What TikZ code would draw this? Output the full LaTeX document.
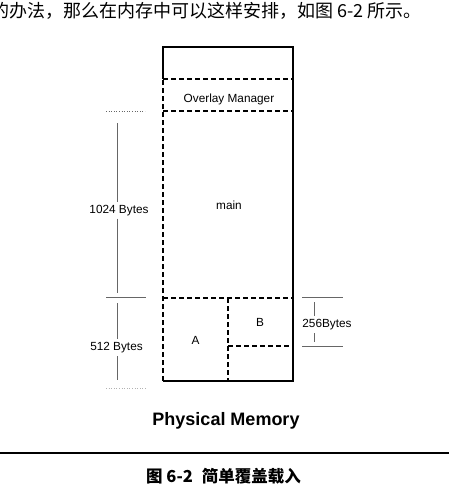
\documentclass[tikz,border=0pt]{standalone}
\usepackage{fontspec}
\setmainfont{Liberation Sans}
\newfontfamily\cjk{Noto Sans CJK SC}
\begin{document}
\begin{tikzpicture}[x=1pt,y=-1pt,
  wall/.style={line width=1.7pt},
  dashline/.style={line width=1.6pt, dash pattern=on 5pt off 3pt},
  dimline/.style={black!60, line width=0.6pt},
  lbl/.style={font=\fontsize{11.8}{13}\selectfont, inner sep=0pt},
  dimlbl/.style={font=\fontsize{11.8}{13}\selectfont, inner xsep=0pt, inner ysep=3pt},
]
\useasboundingbox (0,0) rectangle (449,501);

% intro sentence
\node[font=\cjk\fontsize{18}{20}\selectfont, anchor=west, inner sep=0pt] (intro) at (-9,11)
  {的办法，那么在内存中可以这样安排，如图 6-2 所示。};

% memory box
\coordinate (tl) at (163,47);
\coordinate (tr) at (293,47);
\coordinate (br) at (293,381);
\coordinate (bl) at (163,381);
\coordinate (l1) at (163,79);
\coordinate (r1) at (293,79);
\coordinate (l2) at (163,111);
\coordinate (r2) at (293,111);
\coordinate (l3) at (163,298);
\coordinate (r3) at (293,298);
\coordinate (m3) at (228,298);
\coordinate (mb) at (228,381);
\coordinate (m4) at (228,346);
\coordinate (r4) at (293,346);

\draw[wall] (l1) -- (tl) -- (tr) -- (br) -- (bl);
\draw[dashline] (bl) -- (l1);
\draw[dashline] (l1) -- (r1);
\draw[dashline] (l2) -- (r2);
\draw[dashline] (l3) -- (r3);
\draw[dashline] (m3) -- (mb);
\draw[dashline] (m4) -- (r4);

\node[lbl, anchor=base] (om) at (229,102.5) {Overlay Manager};
\node[lbl, anchor=base] (main) at (229,209) {main};
\node[lbl, anchor=base] (A) at (195.5,344) {A};
\node[lbl, anchor=base] (B) at (260,326) {B};

% left dimensions
\node[dimlbl, anchor=base] (kb1) at (119,213) {1024 Bytes};
\node[dimlbl, anchor=base] (b512) at (116.5,350.5) {512 Bytes};
\coordinate (t1a) at (106,111.5);
\coordinate (t1b) at (145,111.5);
\coordinate (t2a) at (106,297);
\coordinate (t2b) at (146,297);
\coordinate (t3a) at (106,388);
\coordinate (t3b) at (146,388);
\coordinate (v1a) at (117,123);
\coordinate (v1b) at (117,293);
\coordinate (v2a) at (117,303);
\coordinate (v2b) at (117,380);
\draw[dimline, dotted] (t1a) -- (t1b);
\draw[dimline] (t2a) -- (t2b);
\draw[black!30, line width=0.6pt, dotted] (t3a) -- (t3b);
\draw[dimline] (v1a) -- (v1a |- kb1.north);
\draw[dimline] (v1b |- kb1.south) -- (v1b);
\draw[dimline] (v2a) -- (v2a |- b512.north);
\draw[dimline] (v2b |- b512.south) -- (v2b);

% right dimension
\node[dimlbl, anchor=base] (b256) at (327,327.5) {256Bytes};
\coordinate (s1a) at (302,297);
\coordinate (s1b) at (343,297);
\coordinate (s2a) at (302,346);
\coordinate (s2b) at (343,346);
\coordinate (w1) at (314,302);
\coordinate (w2) at (314,342);
\draw[dimline] (s1a) -- (s1b);
\draw[dimline] (s2a) -- (s2b);
\draw[dimline] (w1) -- (w1 |- b256.north);
\draw[dimline] (w2 |- b256.south) -- (w2);

% title
\node[font=\bfseries\fontsize{18}{20}\selectfont, anchor=base] (pm) at (226,425) {Physical Memory};

% rule and caption
\coordinate (ra) at (0,453);
\coordinate (rb) at (449,453);
\draw[line width=1.3pt] (ra) -- (rb);
\node[font=\cjk\bfseries\fontsize{16.5}{18}\selectfont, anchor=west, inner sep=0pt] (cap) at (146,476)
  {图 6-2\hskip 9pt 简单覆盖载入};
\end{tikzpicture}
\end{document}
